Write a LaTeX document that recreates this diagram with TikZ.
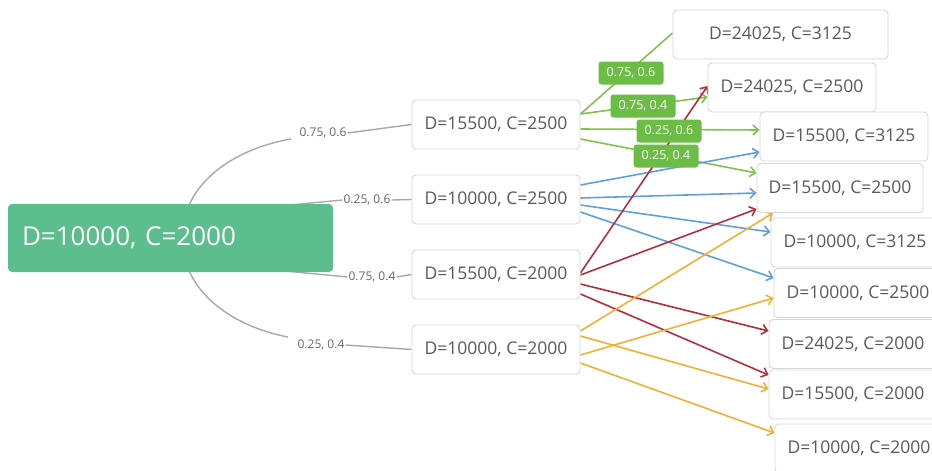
\documentclass[tikz,border=0pt]{standalone}
\usepackage{fontspec}
\setmainfont{Open Sans}
\usetikzlibrary{arrows.meta}
\definecolor{rootc}{HTML}{5BBE8C}
\definecolor{glab}{HTML}{6CBD45}
\definecolor{gline}{HTML}{80C24E}
\definecolor{bline}{HTML}{5E9FDF}
\definecolor{rline}{HTML}{B2303A}
\definecolor{oline}{HTML}{F2B033}
\definecolor{connc}{HTML}{A8A8A8}
\definecolor{boxc}{HTML}{D6D6D6}
\definecolor{txtc}{HTML}{595959}
\definecolor{ltxt}{HTML}{666666}
\pgfdeclarelayer{bg}
\pgfsetlayers{bg,main}
\begin{document}
\begin{tikzpicture}[x=1pt,y=-1pt,
  box/.style={draw=boxc, line width=0.9pt, rounded corners=4pt, fill=white,
    minimum width=168pt, minimum height=49pt, inner sep=0pt, text=txtc,
    font=\fontsize{17.5}{20}\selectfont},
  rootbox/.style={fill=rootc, rounded corners=4pt, minimum width=325pt,
    minimum height=68pt, text width=297pt, inner xsep=14pt, inner ysep=0pt,
    align=left, text=white, font=\fontsize{26}{30}\selectfont},
  glabel/.style={fill=glab, rounded corners=3pt, text=white,
    font=\fontsize{12.5}{14}\selectfont, minimum width=65pt, minimum height=23pt, inner sep=0pt},
  plabel/.style={text=ltxt, font=\fontsize{12}{14}\selectfont, inner sep=1pt},
  conn/.style={draw=connc, line width=1.4pt},
  arr/.style={line width=1.6pt, -{Straight Barb[length=5.5pt,width=10pt]}},
  gar/.style={arr, draw=gline},
  bar/.style={arr, draw=bline},
  rar/.style={arr, draw=rline},
  oar/.style={arr, draw=oline}
]
\useasboundingbox (0,0) rectangle (932,471);

% root
\node[rootbox] (root) at (170.5,238) {D=10000, C=2000};

% middle nodes
\node[box] (m1) at (496,124.5) {D=15500, C=2500};
\node[box] (m2) at (496,199.5) {D=10000, C=2500};
\node[box] (m3) at (496,274.5) {D=15500, C=2000};
\node[box] (m4) at (496,349.5) {D=10000, C=2000};

% right nodes
\node[box, minimum width=215pt] (r1) at (780.5,34.5) {D=24025, C=3125};
\node[box] (r2) at (792,87.5) {D=24025, C=2500};
\node[box] (r3) at (844,136.5) {D=15500, C=3125};
\node[box, minimum width=166pt] (r4) at (840,188) {D=15500, C=2500};
\node[box] (r5) at (855,242.5) {D=10000, C=3125};
\node[box] (r6) at (858,293) {D=10000, C=2500};
\node[box] (r7) at (853,344) {D=24025, C=2000};
\node[box] (r8) at (853,394.5) {D=15500, C=2000};
\node[box] (r9) at (859,448.5) {D=10000, C=2000};

% probability labels on the root connectors
\node[plabel] (l1) at (323,133) {0.75, 0.6};
\node[plabel] (l2) at (367,200) {0.25, 0.6};
\node[plabel] (l3) at (372,277) {0.75, 0.4};
\node[plabel] (l4) at (321,345) {0.25, 0.4};

% green labels
\node[glabel] (g1) at (631,73) {0.75, 0.6};
\node[glabel] (g2) at (643,106) {0.75, 0.4};
\node[glabel] (g3) at (669,131) {0.25, 0.6};
\node[glabel] (g4) at (666,156) {0.25, 0.4};

\coordinate (c1) at (187,210);
\coordinate (e1) at (291,139);
\coordinate (c2) at (290,205);
\coordinate (c3) at (285,271);
\coordinate (c4) at (187,266);
\coordinate (e4) at (288,337);

\begin{pgfonlayer}{bg}
% gray connectors from root
\draw[conn] (c1) .. controls (203,168) and (250,146) .. (e1);
\draw[conn] (l1.east) -- (m1.west);
\draw[conn] (c2) -- (l2.west);
\draw[conn] (l2.east) -- (m2.west);
\draw[conn] (c3) -- (l3.west);
\draw[conn] (l3.east) -- (m3.west);
\draw[conn] (c4) .. controls (203,308) and (250,330) .. (e4);
\draw[conn] (l4.east) -- (m4.west);

% green
\draw[draw=gline, line width=1.6pt] (m1.east |- 0,114) -- (r1.west |- 0,33);
\draw[gar] (m1.east |- 0,114) -- (r2.west |- 0,97);
\draw[gar] (m1.east |- 0,129) -- (r3.west |- 0,130);
\draw[gar] (m1.east |- 0,139) -- (r4.west |- 0,173);
% blue
\draw[bar] (m2.east |- 0,185) -- (r3.west |- 0,152);
\draw[bar] (m2.east |- 0,198) -- (r4.west |- 0,193);
\draw[bar] (m2.east |- 0,205) -- (r5.west |- 0,232);
\draw[bar] (m2.east |- 0,212) -- (r6.west |- 0,278);
% red
\draw[rar] (m3.east |- 0,273) -- (r2.west |- 0,86);
\draw[rar] (m3.east |- 0,275) -- (r4.west |- 0,209);
\draw[rar] (m3.east |- 0,284) -- (r7.west |- 0,331);
\draw[rar] (m3.east |- 0,294) -- (r8.west |- 0,375);
% orange
\draw[oar] (m4.east |- 0,331) -- (r4.south -| 773,0);
\draw[oar] (m4.east |- 0,355) -- (r6.west |- 0,298);
\draw[oar] (m4.east |- 0,336) -- (r8.west |- 0,389);
\draw[oar] (m4.east |- 0,363) -- (r9.west |- 0,433);
\end{pgfonlayer}
\end{tikzpicture}
\end{document}
